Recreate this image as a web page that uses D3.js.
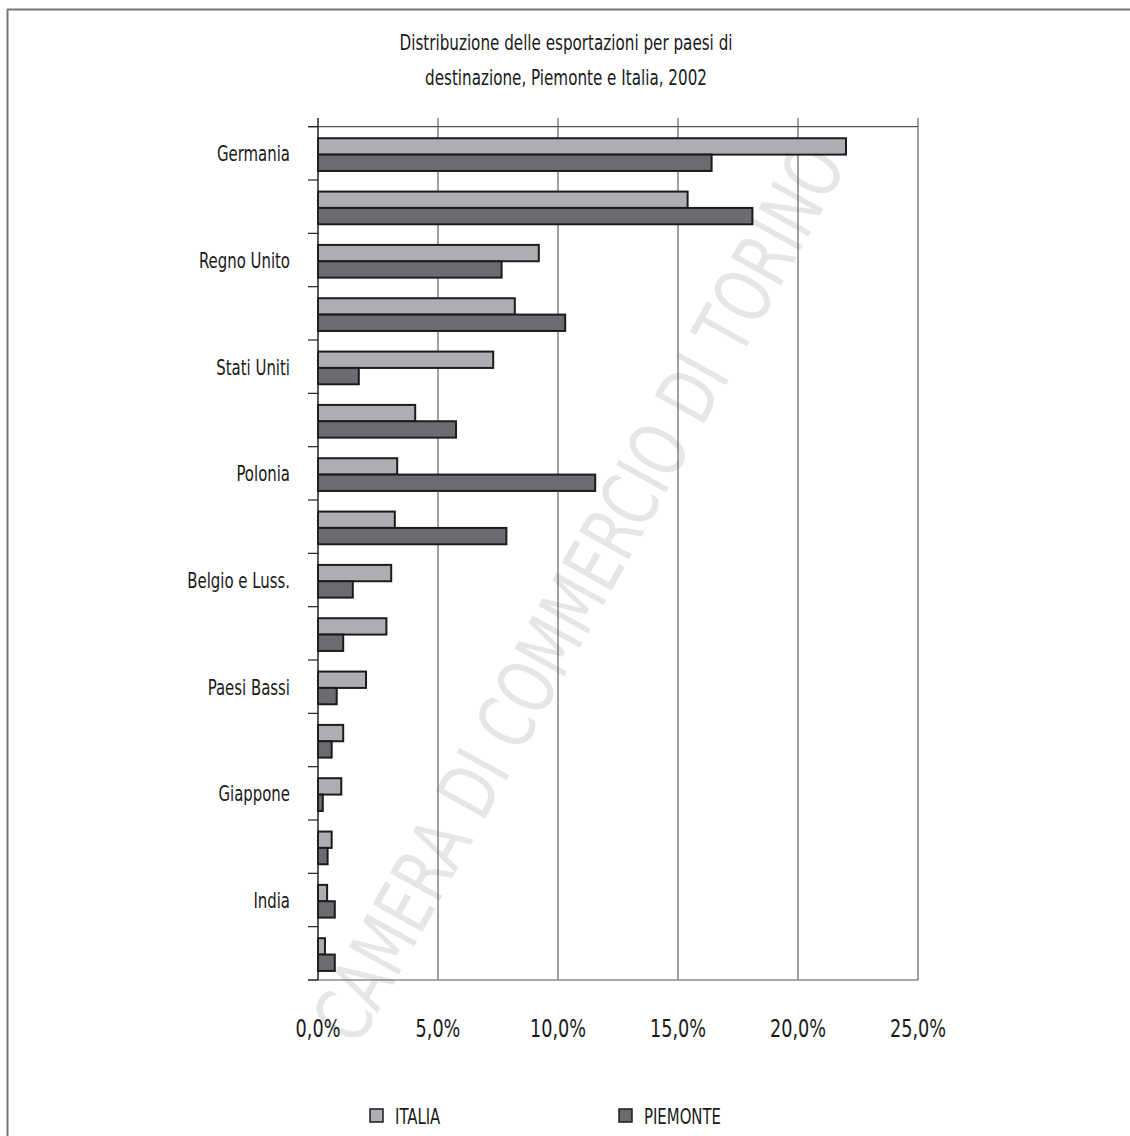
<!DOCTYPE html>
<html><head><meta charset="utf-8">
<script src="https://cdn.jsdelivr.net/npm/d3@7"></script>
<style>
html,body{margin:0;padding:0;background:#fff;}
svg{display:block;}
text{font-family:"DejaVu Sans Condensed","DejaVu Sans",sans-serif;fill:#1a1a1a;}
</style></head>
<body>
<script>
// Data (labels shown in the reference; unlabeled rows kept as blank labels)
const categories = ["Germania","","Regno Unito","","Stati Uniti","","Polonia","","Belgio e Luss.","","Paesi Bassi","","Giappone","","India",""];
const italia   = [22.0,15.4,9.2,8.2,7.3,4.05,3.3,3.2,3.05,2.85,2.0,1.05,0.97,0.57,0.38,0.29];
const piemonte = [16.4,18.1,7.65,10.3,1.7,5.75,11.55,7.85,1.45,1.05,0.78,0.57,0.2,0.4,0.7,0.7];
const seriesNames = ["ITALIA","PIEMONTE"];
const seriesColors = ["#adaeb1","#6b6c70"];
const xTicks = [0,5,10,15,20,25];
const titleLines = ["Distribuzione delle esportazioni per paesi di","destinazione, Piemonte e Italia, 2002"];

const W=1130,H=1136;
const svg=d3.select("body").append("svg").attr("width",W).attr("height",H);

// condense a group of texts: factor chosen so that a reference text gets a target width
function condense(sel, refText, refWidth){
  let f=null;
  sel.each(function(){ if(this.textContent===refText){ f=refWidth/this.getComputedTextLength(); } });
  if(f===null) f=0.8;
  sel.each(function(){
    const w=this.getComputedTextLength();
    d3.select(this).attr("textLength",w*f).attr("lengthAdjust","spacingAndGlyphs");
  });
}

// frame
svg.append("line").attr("x1",7.5).attr("x2",7.5).attr("y1",9).attr("y2",H).attr("stroke","#777").attr("stroke-width",2);
svg.append("line").attr("x1",7).attr("x2",W).attr("y1",9.5).attr("y2",9.5).attr("stroke","#777").attr("stroke-width",2);

// watermark
svg.append("text").attr("transform","translate(584,596) rotate(-61)")
  .attr("text-anchor","middle").attr("dominant-baseline","middle")
  .style("font-family","'DejaVu Sans','Liberation Sans',sans-serif")
  .style("font-size","78px").style("fill","#e6e6e6")
  .attr("textLength",1010).attr("lengthAdjust","spacingAndGlyphs")
  .text("CAMERA DI COMMERCIO DI TORINO");

const x=d3.scaleLinear().domain([0,25]).range([318,918]);
const idx=d3.range(categories.length);
const y=d3.scaleBand().domain(idx).range([126.7,980]).padding(0);
const yIn=d3.scaleBand().domain(seriesNames).range([0,y.bandwidth()]).paddingInner(0).paddingOuter(0.63).align(0.56);

// gridlines
svg.append("g").selectAll("line").data(xTicks.filter(d=>d>0)).join("line")
  .attr("x1",d=>x(d)).attr("x2",d=>x(d)).attr("y1",118).attr("y2",980)
  .attr("stroke","#444").attr("stroke-width",1);
// top / bottom lines
[126.7,980].forEach(yy=>{
  svg.append("line").attr("x1",308).attr("x2",918).attr("y1",yy).attr("y2",yy).attr("stroke","#555").attr("stroke-width",1.2);
});

// bars
const rows=idx.map(i=>({i,vals:[italia[i],piemonte[i]]}));
const g=svg.append("g");
rows.forEach(r=>{
  seriesNames.forEach((s,k)=>{
    g.append("rect")
      .attr("x",x(0)).attr("y",y(r.i)+yIn(s))
      .attr("width",x(r.vals[k])-x(0)).attr("height",yIn.bandwidth())
      .attr("fill",seriesColors[k]).attr("stroke","#1c1c1c").attr("stroke-width",2);
  });
});

// y axis line and ticks
svg.append("line").attr("x1",318).attr("x2",318).attr("y1",118).attr("y2",980).attr("stroke","#222").attr("stroke-width",1.5);
svg.append("g").selectAll("line").data(d3.range(categories.length+1)).join("line")
  .attr("x1",308).attr("x2",318)
  .attr("y1",d=>126.7+d*y.step()).attr("y2",d=>126.7+d*y.step())
  .attr("stroke","#222").attr("stroke-width",1.2);

// category labels
const lab=svg.append("g").selectAll("text").data(idx.filter(i=>categories[i]!=="")).join("text")
  .attr("x",290).attr("y",i=>y(i)+y.bandwidth()/2+8)
  .attr("text-anchor","end")
  .style("font-size","21px").text(i=>categories[i]);
condense(lab,"Germania",73);

// x tick labels
const fmt=d=>d.toFixed(1).replace(".",",")+"%";
const tk=svg.append("g").selectAll("text").data(xTicks).join("text")
  .attr("x",d=>x(d)).attr("y",1037).attr("text-anchor","middle")
  .style("font-size","24px").text(fmt);
condense(tk,"10,0%",56);

// title
const tt=svg.append("g").selectAll("text").data(titleLines).join("text")
  .attr("x",566).attr("y",(d,i)=>50+i*35).attr("text-anchor","middle")
  .style("font-size","21px").text(d=>d);
condense(tt,titleLines[0],333);

// legend
const legX=[370,619];
const lt=[];
seriesNames.forEach((s,k)=>{
  svg.append("rect").attr("x",legX[k]).attr("y",1109).attr("width",13).attr("height",13)
    .attr("fill",seriesColors[k]).attr("stroke","#1c1c1c").attr("stroke-width",1.5);
});
const lg=svg.append("g").selectAll("text").data(seriesNames).join("text")
  .attr("x",(d,k)=>legX[k]+25).attr("y",1124).style("font-size","21px").text(d=>d);
condense(lg,"PIEMONTE",77);
</script>
</body></html>
